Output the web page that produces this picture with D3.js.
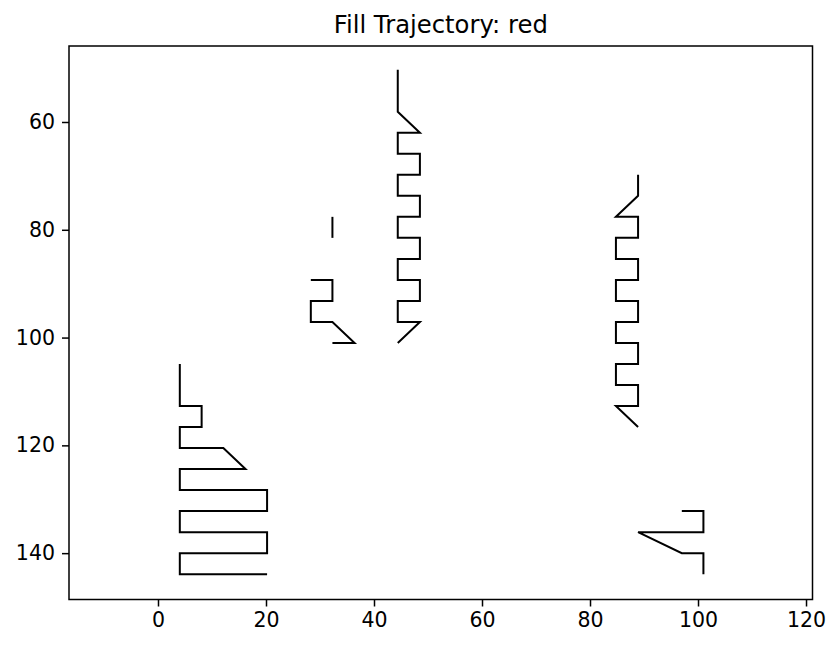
<!DOCTYPE html>
<meta charset="utf-8">
<script src="https://d3js.org/d3.v7.min.js"></script>
<style>
  body { margin: 0; background: #fff; }
  text { font-family: "DejaVu Sans", sans-serif; fill: #000; }
</style>
<div id="chart"></div>
<script>

// trajectory strokes, as x / y lists (data units)
const strokeAx = [4.04, 4.04, 8.08, 8.08, 4.04, 4.04, 12.1, 16.2, 4.04, 4.04, 20.2, 20.2, 4.04, 4.04, 20.2, 20.2, 4.04, 4.04, 20.2]
const strokeAy = [104.9, 112.7, 112.7, 116.6, 116.6, 120.5, 120.5, 124.4, 124.4, 128.3, 128.3, 132.2, 132.2, 136.1, 136.1, 140.0, 140.0, 143.9, 143.9]

const strokeBx = [32.3, 32.3]
const strokeBy = [77.6, 81.5]

const strokeCx = [28.3, 32.3, 32.3, 28.3, 28.3, 32.3, 36.4, 32.3]
const strokeCy = [89.3, 89.3, 93.2, 93.2, 97.1, 97.1, 101.0, 101.0]

const strokeDx = [44.4, 44.4, 48.5, 44.4, 44.4, 48.5, 48.5, 44.4, 44.4, 48.5, 48.5, 44.4, 44.4, 48.5, 48.5, 44.4, 44.4, 48.5, 48.5, 44.4, 44.4, 48.5, 44.4]
const strokeDy = [50.3, 58.1, 62.0, 62.0, 65.9, 65.9, 69.8, 69.8, 73.7, 73.7, 77.6, 77.6, 81.5, 81.5, 85.4, 85.4, 89.3, 89.3, 93.2, 93.2, 97.1, 97.1, 101.0]

const strokeEx = [88.9, 88.9, 84.8, 88.9, 88.9, 84.8, 84.8, 88.9, 88.9, 84.8, 84.8, 88.9, 88.9, 84.8, 84.8, 88.9, 88.9, 84.8, 84.8, 88.9, 88.9, 84.8, 88.9]
const strokeEy = [69.8, 73.7, 77.6, 77.6, 81.5, 81.5, 85.4, 85.4, 89.3, 89.3, 93.2, 93.2, 97.1, 97.1, 101.0, 101.0, 104.9, 104.9, 108.8, 108.8, 112.7, 112.7, 116.6]

const strokeFx = [97.0, 101.0, 101.0, 88.9, 97.0, 101.0, 101.0]
const strokeFy = [132.2, 132.2, 136.1, 136.1, 140.0, 140.0, 143.9]

const xTicks = [0, 20, 40, 60, 80, 100, 120]
const yTicks = [60, 80, 100, 120, 140]
const title = "Fill Trajectory: red"

const W = 840, H = 650
const margin = {top: 46, right: 27.5, bottom: 50.5, left: 69}
const width = W - margin.left - margin.right,
      height = H - margin.top - margin.bottom

const svg = d3.select("#chart").append("svg")
    .attr("width", W)
    .attr("height", H)

const g = svg.append("g")
    .attr("transform", "translate(" + margin.left + "," + margin.top + ")")

const x = d3.scaleLinear().domain([-16.48, 121.2]).range([0, width])
const y = d3.scaleLinear().domain([45.9, 148.6]).range([0, height])  // inverted y

const strokes = [
  [strokeAx, strokeAy],
  [strokeBx, strokeBy],
  [strokeCx, strokeCy],
  [strokeDx, strokeDy],
  [strokeEx, strokeEy],
  [strokeFx, strokeFy]
].map(([xs, ys]) => xs.map((v, i) => [v, ys[i]]))

const line = d3.line().x(d => x(d[0])).y(d => y(d[1]))

g.selectAll("path.traj")
  .data(strokes)
  .enter().append("path")
    .attr("class", "traj")
    .attr("d", line)
    .attr("fill", "none")
    .attr("stroke", "#000")
    .attr("stroke-width", 2)
    .attr("stroke-linejoin", "miter")

// axes
const xAxis = g.append("g")
    .attr("transform", "translate(0," + height + ")")
    .call(d3.axisBottom(x).tickValues(xTicks).tickSize(7).tickPadding(6).tickFormat(d3.format("d")))
const yAxis = g.append("g")
    .call(d3.axisLeft(y).tickValues(yTicks).tickSize(7).tickPadding(7).tickFormat(d3.format("d")))

for (const ax of [xAxis, yAxis]) {
  ax.select(".domain").remove()
  ax.selectAll(".tick line").attr("stroke", "#000").attr("stroke-width", 1.5)
  ax.selectAll(".tick text")
    .attr("font-family", "DejaVu Sans")
    .attr("font-size", 20.5)
    .attr("fill", "#000")
}

// frame
g.append("rect")
    .attr("width", width)
    .attr("height", height)
    .attr("fill", "none")
    .attr("stroke", "#000")
    .attr("stroke-width", 1.5)

svg.append("text")
    .attr("x", margin.left + width / 2)
    .attr("y", 33)
    .attr("text-anchor", "middle")
    .attr("font-size", 24.3)
    .text(title)

</script>
